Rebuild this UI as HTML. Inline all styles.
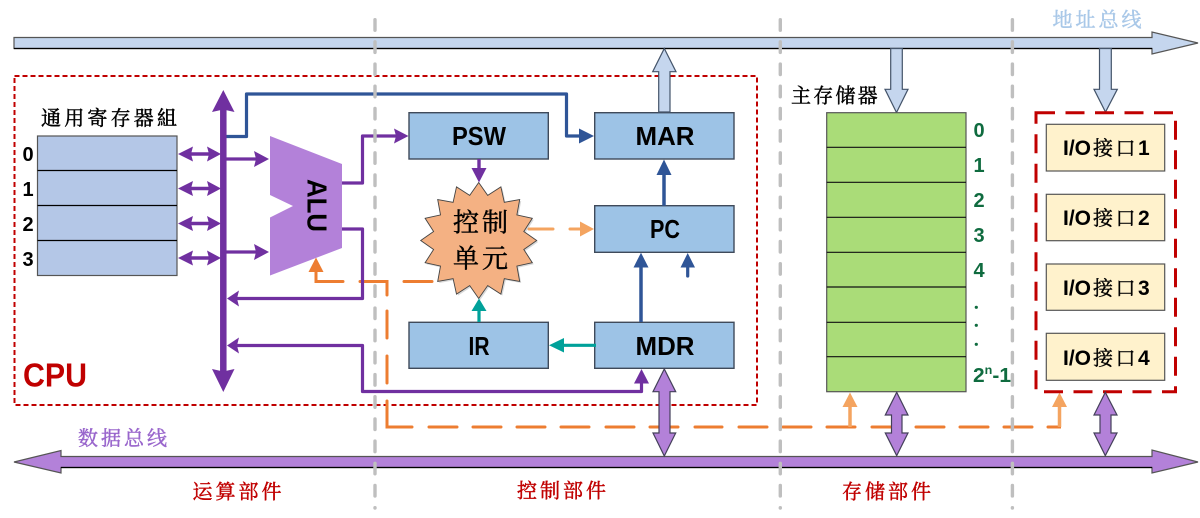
<!DOCTYPE html>
<html lang="zh">
<head>
<meta charset="utf-8">
<title>CPU</title>
<style>
html,body{margin:0;padding:0;background:#fff;}
svg{display:block;}
.cjk{font-family:"Liberation Serif","Noto Serif CJK SC",serif;dominant-baseline:central;stroke-width:.45;}
.b{font-family:"Liberation Sans",sans-serif;font-weight:bold;}
.reg{font-size:26px;fill:#000;text-anchor:middle;}
.n{font-size:20px;fill:#000;text-anchor:middle;}
.g{font-size:20px;fill:#0f6b3f;text-anchor:middle;}
.box{fill:#9dc3e6;stroke:#3f4a5a;stroke-width:1.4;}
.io{fill:#fff2cc;stroke:#555;stroke-width:1.2;}
</style>
</head>
<body>
<svg width="1200" height="518" viewBox="0 0 1200 518" xmlns="http://www.w3.org/2000/svg">
<rect width="1200" height="518" fill="#fff"/>

<!-- CPU box -->
<rect x="14.5" y="76" width="742.5" height="329" fill="none" stroke="#c00000" stroke-width="2" stroke-dasharray="5 3"/>
<text class="b" x="23" y="386.5" font-size="33" fill="#c00000" textLength="64" lengthAdjust="spacingAndGlyphs">CPU</text>

<!-- address bus -->
<polygon points="14,37.5 1152,37.5 1152,32 1198,43 1152,54 1152,48.5 14,48.5" fill="#c5d6ee" stroke="#555" stroke-width="1.2"/>
<path d="M14,48.5H1152" stroke="#000" stroke-width="1.2"/>

<!-- orange dashed bottom line -->
<g fill="none" stroke="#ed7d31" stroke-width="3" stroke-linecap="round">
<path d="M432,281.5H404M387,295V281.5H360M343,281.5H316V272"/>
<path d="M387,311V338M387,356V383M387,401V427H412"/>
<path d="M429,427H457M473,427H501M517,427H545M561,427H589M606,427H634M650,427H678M695,427H722M739,427H767M783,427H811M827,427H855M872,427H900M916,427H944M960,427H988M1004,427H1032M1048,427H1059.5V408"/>
</g>
<path d="M850,427V406" stroke="#f4a460" stroke-width="3.5"/>
<polygon points="850,392.5 842.5,407 857.5,407" fill="#f4a460"/>
<path d="M1059.5,427V406" stroke="#f4a460" stroke-width="3.5"/>
<polygon points="1059.5,392.5 1052,407 1067,407" fill="#f4a460"/>
<polygon points="316,257.5 308.5,272 323.5,272" fill="#ed7d31"/>

<!-- data bus -->
<polygon points="14,462 61,450.5 61,456.5 1152,456.5 1152,450 1198,462 1152,473 1152,467.5 61,467.5 61,473" fill="#b381d9" stroke="#555" stroke-width="1.2"/>
<path d="M61,467.5H1152" stroke="#000" stroke-width="1.2"/>

<!-- registers -->
<rect x="37.5" y="136" width="139.5" height="139.5" fill="#b4c7e7" stroke="#555" stroke-width="1.2"/>
<path d="M37.5,170.5H177M37.5,205.5H177M37.5,240.5H177" stroke="#000" stroke-width="1.2"/>
<text class="cjk" x="41" y="119" font-size="20" letter-spacing="3.2" stroke="#000">通用寄存器組</text>
<text class="b n" x="28" y="161">0</text>
<text class="b n" x="28" y="196">1</text>
<text class="b n" x="28" y="231">2</text>
<text class="b n" x="28" y="266">3</text>

<!-- blue route to MAR -->
<path d="M226,136.5H246.5V94H566.5V136H582" fill="none" stroke="#2f5597" stroke-width="3.2" stroke-linejoin="round"/>
<polygon points="594,136 579,128.5 579,143.5" fill="#2f5597"/>

<!-- purple main vertical bus -->
<path d="M223.3,108V372" stroke="#7030a0" stroke-width="6.5"/>
<polygon points="223.3,90 212,112 223.3,109.5 234.5,112" fill="#7030a0"/>
<polygon points="223.3,392 212,369 223.3,371.5 234.5,369" fill="#7030a0"/>

<!-- double arrows registers -->
<g fill="#7030a0">
<path d="M185,154H215M185,188.5H215M185,223.5H215M185,258H215" stroke="#7030a0" stroke-width="3.4"/>
<polygon points="178,154 193,146.5 191,154 193,161.5"/><polygon points="221,154 207,146.5 209,154 207,161.5"/>
<polygon points="178,188.5 193,181 191,188.5 193,196"/><polygon points="221,188.5 207,181 209,188.5 207,196"/>
<polygon points="178,223.5 193,216 191,223.5 193,231"/><polygon points="221,223.5 207,216 209,223.5 207,231"/>
<polygon points="178,258 193,250.5 191,258 193,265.5"/><polygon points="221,258 207,250.5 209,258 207,265.5"/>
</g>

<!-- to ALU -->
<path d="M226,159H258M226,252H258" stroke="#7030a0" stroke-width="3.2"/>
<polygon points="269,159 254,151 256,159 254,167" fill="#7030a0"/>
<polygon points="269,252 254,244 256,252 254,260" fill="#7030a0"/>

<!-- ALU -->
<polygon points="270,136 342,164 342,248 270,275.5 270,217.5 293,206 270,195" fill="#b381d9"/>
<text class="b" transform="translate(307.5,179) rotate(90)" font-size="28" fill="#000" textLength="53" lengthAdjust="spacingAndGlyphs">ALU</text>

<!-- ALU outputs -->
<g fill="none" stroke="#7030a0" stroke-width="3.2" stroke-linejoin="round">
<path d="M342,183H362.5V136H398"/>
<path d="M342,229H362.5V298.5H236"/>
<path d="M236,345.5H362.5V391.5H641.5V382"/>
</g>
<polygon points="408.5,136 394,128.5 396,136 394,143.5" fill="#7030a0"/>
<polygon points="227,298.5 239,290.5 237,298.5 239,306.5" fill="#7030a0"/>
<polygon points="227,345.5 239,337.5 237,345.5 239,353.5" fill="#7030a0"/>
<polygon points="641.5,369 634,383.5 649,383.5" fill="#7030a0"/>

<!-- boxes -->
<rect class="box" x="409" y="112.7" width="139.3" height="46.3"/>
<rect class="box" x="594.7" y="112.7" width="139.3" height="46.3"/>
<rect class="box" x="594.7" y="205.7" width="139.3" height="46.6"/>
<rect class="box" x="409" y="322.3" width="139.3" height="46"/>
<rect class="box" x="594.7" y="322.3" width="139.3" height="46"/>
<text class="b reg" x="479" y="145" textLength="54" lengthAdjust="spacingAndGlyphs">PSW</text>
<text class="b reg" x="665" y="145" textLength="59" lengthAdjust="spacingAndGlyphs">MAR</text>
<text class="b reg" x="665" y="238" textLength="30" lengthAdjust="spacingAndGlyphs">PC</text>
<text class="b reg" x="479" y="355" textLength="21" lengthAdjust="spacingAndGlyphs">IR</text>
<text class="b reg" x="665" y="355" textLength="59" lengthAdjust="spacingAndGlyphs">MDR</text>

<!-- internal arrows -->
<path d="M479,159V170" stroke="#7030a0" stroke-width="3.4"/>
<polygon points="479,182.5 471.5,168 486.5,168" fill="#7030a0"/>
<g transform="translate(478.7,240.5)">
<polygon transform="translate(1.5,1.5)" fill="#d9d9d9" points="0,-58 9,-45.1 22.2,-53.6 25.6,-38.2 41,-41 38.2,-25.6 53.6,-22.2 45.1,-9 58,0 45.1,9 53.6,22.2 38.2,25.6 41,41 25.6,38.2 22.2,53.6 9,45.1 0,58 -9,45.1 -22.2,53.6 -25.6,38.2 -41,41 -38.2,25.6 -53.6,22.2 -45.1,9 -58,0 -45.1,-9 -53.6,-22.2 -38.2,-25.6 -41,-41 -25.6,-38.2 -22.2,-53.6 -9,-45.1"/>
<polygon fill="#f4b183" stroke="#444" stroke-width="0.9" points="0,-58 9,-45.1 22.2,-53.6 25.6,-38.2 41,-41 38.2,-25.6 53.6,-22.2 45.1,-9 58,0 45.1,9 53.6,22.2 38.2,25.6 41,41 25.6,38.2 22.2,53.6 9,45.1 0,58 -9,45.1 -22.2,53.6 -25.6,38.2 -41,41 -38.2,25.6 -53.6,22.2 -45.1,9 -58,0 -45.1,-9 -53.6,-22.2 -38.2,-25.6 -41,-41 -25.6,-38.2 -22.2,-53.6 -9,-45.1"/>
</g>
<text class="cjk" x="453" y="223" font-size="26" letter-spacing="3" stroke="#000">控制</text>
<text class="cjk" x="453" y="259" font-size="26" letter-spacing="3" stroke="#000">单元</text>

<path d="M479,322V309" stroke="#00a19a" stroke-width="3.2"/>
<polygon points="479,298.5 471.5,311 486.5,311" fill="#00a19a"/>
<path d="M596,345.3H560" stroke="#00a19a" stroke-width="3.2"/>
<polygon points="549,345.3 564,338 564,352.5" fill="#00a19a"/>
<path d="M641,322V265" stroke="#2f5597" stroke-width="3.5"/>
<polygon points="641,252.7 633.5,267.5 648.5,267.5" fill="#2f5597"/>
<path d="M664,205.7V173" stroke="#2f5597" stroke-width="3.5"/>
<polygon points="664,159.5 656.5,175 671.5,175" fill="#2f5597"/>
<path d="M687.7,276V265" stroke="#2f5597" stroke-width="3.2" stroke-linecap="round"/>
<polygon points="687.7,253 680.5,267.5 695,267.5" fill="#2f5597"/>
<g fill="none" stroke="#f4a460" stroke-width="3" stroke-linecap="round">
<path d="M529,229H553M570,229H582"/>
</g>
<polygon points="594,229 580,221.5 580,236.5" fill="#f4a460"/>

<!-- address bus tap arrows -->
<g fill="#c5d6ee" stroke="#44546a" stroke-width="1.2" stroke-linejoin="miter">
<polygon points="664.3,48.5 676,71.7 670,71.7 670,112 658.7,112 658.7,71.7 652.7,71.7"/>
<polygon points="890.7,48.5 902.3,48.5 902.3,89.3 908,89.3 896.5,112.5 885,89.3 890.7,89.3"/>
<polygon points="1099.5,48.5 1111.3,48.5 1111.3,89.3 1117.3,89.3 1105.5,112 1094,89.3 1099.5,89.3"/>
</g>

<!-- memory -->
<rect x="826.7" y="112.7" width="139.3" height="279" fill="#aadc78" stroke="#555" stroke-width="1.2"/>
<path d="M826.7,147.3H966M826.7,182.3H966M826.7,217.3H966M826.7,252.3H966M826.7,287H966M826.7,322.3H966M826.7,356.7H966" stroke="#111" stroke-width="1.2"/>
<text class="cjk" x="791" y="96.7" font-size="20" letter-spacing="2.2" stroke="#000">主存储器</text>
<text class="b g" x="979" y="137">0</text>
<text class="b g" x="979" y="172">1</text>
<text class="b g" x="979" y="207">2</text>
<text class="b g" x="979" y="242">3</text>
<text class="b g" x="979" y="277">4</text>
<g fill="#0f6b3f"><circle cx="976.3" cy="307.3" r="1.6"/><circle cx="976.3" cy="325.3" r="1.6"/><circle cx="976.3" cy="344.3" r="1.6"/></g>
<text class="b" x="973" y="382" font-size="20" fill="#0f6b3f" textLength="38" lengthAdjust="spacingAndGlyphs">2<tspan font-size="12" dy="-8">n</tspan><tspan dy="8">-1</tspan></text>

<!-- IO -->
<rect x="1036" y="112.7" width="139.5" height="279" fill="none" stroke="#c00000" stroke-width="3" stroke-dasharray="19 10.5"/>
<rect class="io" x="1046.3" y="124.3" width="118.4" height="46.7"/>
<rect class="io" x="1046.3" y="194.3" width="118.4" height="46.4"/>
<rect class="io" x="1046.3" y="264" width="118.4" height="46.3"/>
<rect class="io" x="1046.3" y="333.3" width="118.4" height="47"/>
<g font-size="21" fill="#000" font-family="Liberation Sans, Noto Serif CJK SC, serif" font-weight="bold">
<text x="1063" y="155"><tspan>I/O</tspan><tspan font-family="Noto Serif CJK SC" font-weight="normal" font-size="20" stroke="#000" stroke-width=".4" dx="2" letter-spacing="2.5">接口</tspan><tspan>1</tspan></text>
<text x="1063" y="225"><tspan>I/O</tspan><tspan font-family="Noto Serif CJK SC" font-weight="normal" font-size="20" stroke="#000" stroke-width=".4" dx="2" letter-spacing="2.5">接口</tspan><tspan>2</tspan></text>
<text x="1063" y="295"><tspan>I/O</tspan><tspan font-family="Noto Serif CJK SC" font-weight="normal" font-size="20" stroke="#000" stroke-width=".4" dx="2" letter-spacing="2.5">接口</tspan><tspan>3</tspan></text>
<text x="1063" y="365"><tspan>I/O</tspan><tspan font-family="Noto Serif CJK SC" font-weight="normal" font-size="20" stroke="#000" stroke-width=".4" dx="2" letter-spacing="2.5">接口</tspan><tspan>4</tspan></text>
</g>

<!-- data bus double arrows -->
<g fill="#b381d9" stroke="#44405a" stroke-width="1.2">
<polygon points="664.3,369 675.7,391.7 670,391.7 670,433 675.7,433 664.3,456 653,433 659,433 659,391.7 653,391.7"/>
<polygon points="896.7,392.3 908,415 902,415 902,433 908,433 896.7,455.7 885.3,433 891.5,433 891.5,415 885.3,415"/>
<polygon points="1105.3,392.3 1117,415 1111,415 1111,433 1117,433 1105.3,455.7 1094,433 1100,433 1100,415 1094,415"/>
</g>

<!-- labels -->
<text class="cjk" x="1052.5" y="20.7" font-size="20" letter-spacing="3" fill="#a9c8e8" stroke="#a9c8e8">地址总线</text>
<text class="cjk" x="78" y="439" font-size="20" letter-spacing="3" fill="#9966cc" stroke="#9966cc">数据总线</text>
<text class="cjk" x="192.5" y="492.7" font-size="20" letter-spacing="3" fill="#c00000" stroke="#c00000">运算部件</text>
<text class="cjk" x="517" y="491.7" font-size="20" letter-spacing="3" fill="#c00000" stroke="#c00000">控制部件</text>
<text class="cjk" x="842" y="492.7" font-size="20" letter-spacing="3" fill="#c00000" stroke="#c00000">存储部件</text>

<!-- grey separators -->
<g fill="none" stroke="#bfbfbf" stroke-width="3.4" stroke-linecap="round" stroke-dasharray="10.5 11.68">
<path d="M375,19.7V508"/>
<path d="M780.3,19.7V508"/>
<path d="M1012.4,19.7V508"/>
</g>
</svg>
</body>
</html>
